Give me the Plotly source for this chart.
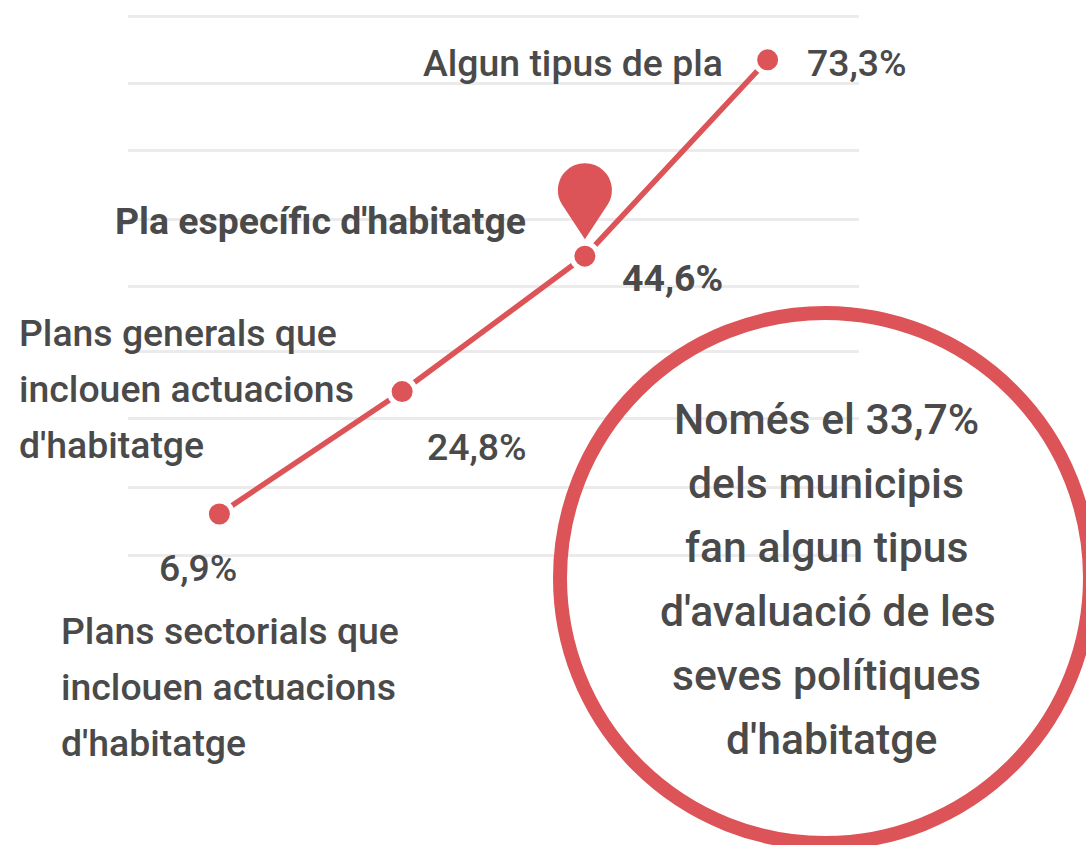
import plotly.graph_objects as go

# ---- data ----
categories = ["Plans sectorials", "Plans generals", "Pla específic", "Algun tipus de pla"]
values = [6.9, 24.8, 44.6, 73.3]
value_labels = ["6,9%", "24,8%", "44,6%", "73,3%"]
grid_values = [0.9, 10.7, 20.8, 30.6, 40.2, 50.0, 60.1, 69.9, 79.7]

algun_label = ["Algun tipus de pla"]
especific_label = ["Pla específic d'habitatge"]
generals_label = ["Plans generals que", "inclouen actuacions", "d'habitatge"]
sectorials_label = ["Plans sectorials que", "inclouen actuacions", "d'habitatge"]
callout_lines = ["Només el 33,7%", "dels municipis", "fan algun tipus",
                 "d'avaluació de les", "seves polítiques", "d'habitatge"]

# ---- style ----
W, H = 1086, 845
L, R = 128, 859
RED = "#dc5458"
INK = "#4a4a4a"
GRID = "#ebebeb"
FONT = "Roboto"
SIZE = 37.4
SIZE_BIG = 42.7


def px(x):
    return (x - L) / (R - L)


def py(y):
    return 1 - y / H


def label(text, x, y, size=SIZE, weight=500, anchor="left"):
    return dict(text=text, xref="paper", yref="paper", x=px(x), y=py(y),
                xanchor=anchor, yanchor="middle", showarrow=False,
                font=dict(family=FONT, size=size, color=INK, weight=weight))


annotations = []
annotations.append(label(algun_label[0], 421, 63))
annotations.append(label(especific_label[0], 113, 221, weight=700))
for i, t in enumerate(generals_label):
    annotations.append(label(t, 17, 333 + 56 * i))
for i, t in enumerate(sectorials_label):
    annotations.append(label(t, 59, 631 + 56 * i))
for t, cx, cy in zip(callout_lines, [826, 826, 826, 828, 826, 831], [419, 483, 547, 611, 675, 739]):
    annotations.append(label(t, cx, cy, size=SIZE_BIG, anchor="center"))

value_offsets = [(-21, -54), (75, -55), (88, -22), (89, -3)]
for cat, v, t, (dx, dy), w in zip(categories, values, value_labels, value_offsets, [500, 500, 700, 500]):
    annotations.append(dict(text=t, x=cat, y=v, xref="x", yref="y", xshift=dx, yshift=dy,
                            xanchor="center", yanchor="middle", showarrow=False,
                            font=dict(family=FONT, size=SIZE, color=INK, weight=w)))

pin = ("M 0 17 L -23 52 C -26 57 -27 61 -27 66 C -27 81 -15 93 0 93 "
       "C 15 93 27 81 27 66 C 27 61 26 57 23 52 Z")
shapes = [
    dict(type="path", path=pin, xref="x", yref="y", xsizemode="pixel", ysizemode="pixel",
         xanchor=categories[2], yanchor=values[2], fillcolor=RED, line=dict(width=0)),
    dict(type="circle", xref="paper", yref="paper",
         x0=px(825 - 265), x1=px(825 + 265), y0=py(578 + 265), y1=py(578 - 265),
         line=dict(color=RED, width=14), fillcolor="rgba(0,0,0,0)"),
]

fig = go.Figure(go.Scatter(
    x=categories, y=values, mode="lines+markers", cliponaxis=False,
    line=dict(color=RED, width=5.5),
    marker=dict(size=26, color=RED, line=dict(color="white", width=5)),
    hoverinfo="skip",
))
fig.update_layout(
    width=W, height=H, margin=dict(l=L, r=W - R, t=0, b=0, pad=0),
    paper_bgcolor="white", plot_bgcolor="white", showlegend=False,
    annotations=annotations, shapes=shapes,
)
fig.update_xaxes(type="category", range=[-0.5, 3.5], showgrid=False, showticklabels=False,
                 ticks="", zeroline=False, showline=False)
fig.update_yaxes(range=[-41.5, 82.05], tickmode="array", tickvals=grid_values, showgrid=True,
                 gridcolor=GRID, gridwidth=3, showticklabels=False, ticks="",
                 zeroline=False, showline=False)
fig.write_html("out.html", config={"displayModeBar": False},
               post_script="document.body.style.margin='0';document.body.style.overflow='hidden';")
